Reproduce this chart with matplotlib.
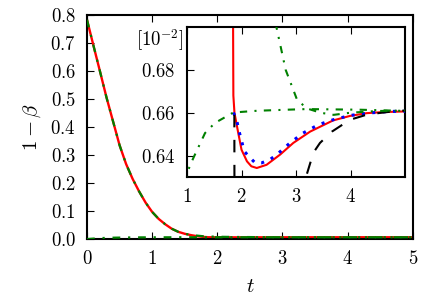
import numpy as np
import matplotlib
matplotlib.use("Agg")
import matplotlib.pyplot as plt
from matplotlib.ticker import FixedLocator, FuncFormatter

plt.rcParams['mathtext.fontset'] = 'cm'
plt.rcParams['font.family'] = 'serif'
plt.rcParams['font.serif'] = ['DejaVu Serif']

# ---- data (real units of 1 - beta) ----
# red solid: full solution
t_red = [0.0, 0.1, 0.2, 0.3, 0.4, 0.5, 0.6, 0.7, 0.8, 0.9, 1.0, 1.1, 1.2, 1.3,
         1.4, 1.5, 1.6, 1.7, 1.8, 1.845, 1.85, 1.87, 1.94, 2.0, 2.1, 2.18,
         2.28, 2.46, 2.71, 2.95, 3.26, 3.68, 3.99, 4.3, 4.6, 5.0]
y_red = [0.783, 0.69, 0.598, 0.505, 0.42, 0.335, 0.268, 0.215, 0.17, 0.13,
         0.097, 0.072, 0.053, 0.037, 0.026, 0.019, 0.014, 0.010, 0.0076,
         0.0070, 0.00668, 0.00660, 0.006505, 0.006427, 0.006373, 0.006350,
         0.006342, 0.006357, 0.006405, 0.006459, 0.006512, 0.006564,
         0.006585, 0.006598, 0.006603, 0.006606]

# green dash-dot: decaying approximation
t_gd = [0.0, 0.1, 0.2, 0.3, 0.4, 0.5, 0.6, 0.7, 0.8, 0.9, 1.0, 1.1, 1.2, 1.3,
        1.4, 1.5, 1.6, 1.8, 2.0, 2.3, 2.64, 2.81, 3.02, 3.2, 3.45, 3.69,
        4.0, 4.5, 5.0]
y_gd = [0.783, 0.69, 0.598, 0.505, 0.42, 0.335, 0.268, 0.215, 0.17, 0.13,
        0.097, 0.072, 0.053, 0.037, 0.026, 0.019, 0.0145, 0.0098, 0.0083,
        0.0075, 0.0070, 0.0068, 0.00666, 0.00662, 0.00660, 0.00659,
        0.006600, 0.006608, 0.006610]

# green dash-dot: rising approximation
t_gr = [0.0, 0.2, 0.4, 0.6, 0.8, 1.0, 1.116, 1.33, 1.51, 1.85, 2.28, 2.83,
        3.2, 4.17, 4.9, 5.0]
y_gr = [0.0, 0.0035, 0.0050, 0.0057, 0.0061, 0.00632, 0.006389, 0.006505,
        0.006552, 0.006601, 0.006609, 0.006614, 0.006617, 0.006614,
        0.006609, 0.006609]

# blue dotted
t_bl = [1.85, 1.91, 1.94, 1.97, 2.05, 2.16, 2.25, 2.37, 2.52, 2.65, 2.89,
        3.13, 3.41, 3.68, 3.99, 4.3, 4.72, 5.0]
y_bl = [0.006601, 0.006567, 0.006529, 0.006498, 0.00642, 0.006389,
        0.006366, 0.006366, 0.006381, 0.006405, 0.006459, 0.006505,
        0.006544, 0.006567, 0.006587, 0.006598, 0.006606, 0.006607]

# black dashed (two branches)
t_bk = [1.868, 1.87, np.nan, 3.14, 3.19, 3.32, 3.44, 3.66, 3.99, 4.3, 4.6,
        4.9, 5.0]
y_bk = [0.00659, 0.00620, np.nan, 0.00620, 0.006306, 0.006414, 0.006459,
        0.006512, 0.006567, 0.006591, 0.006601, 0.006609, 0.006610]

scale = 1e-2

fig = plt.figure(figsize=(4.35, 3.0), dpi=100)
ax = fig.add_axes([0.2, 0.203, 0.749, 0.747])

green = '#008000'
dd = (3.5, 3.5, 1.0, 3.5)

ax.plot(t_red, y_red, color='red', lw=1.7, zorder=2)
ax.plot(t_gd, y_gd, color=green, lw=1.6, dashes=dd, zorder=3)
ax.plot(t_gr, y_gr, color=green, lw=1.6, dashes=dd, zorder=3)

ax.set_xlim(0, 5)
ax.set_ylim(0, 0.8)
ax.xaxis.set_major_locator(FixedLocator([0, 1, 2, 3, 4, 5]))
ax.yaxis.set_major_locator(FixedLocator(np.arange(0, 0.81, 0.1)))
ax.xaxis.set_major_formatter(FuncFormatter(lambda v, p: r'$%d$' % round(v)))
ax.yaxis.set_major_formatter(FuncFormatter(lambda v, p: r'$%.1f$' % v))
ax.tick_params(direction='in', top=True, right=False, length=5, width=0.8,
               labelsize=13.5, pad=8)
for s in ax.spines.values():
    s.set_linewidth(1.5)
ax.set_xlabel(r'$t$', fontsize=15, labelpad=6)
ax.set_ylabel(r'$1-\beta$', fontsize=15, labelpad=5)

# inset
ai = fig.add_axes([0.43, 0.41, 0.501, 0.5])
ai.plot(t_red, np.array(y_red) / scale, color='red', lw=1.5, zorder=2)
ai.plot(t_bl, np.array(y_bl) / scale, color='blue', lw=2.2,
        dashes=(1.0, 2.4), zorder=3)
ai.plot(t_bk, np.array(y_bk) / scale, color='black', lw=1.5,
        dashes=(6, 6), zorder=4)
ai.plot(t_gd, np.array(y_gd) / scale, color=green, lw=1.5, dashes=dd,
        zorder=5)
ai.plot(t_gr, np.array(y_gr) / scale, color=green, lw=1.5, dashes=dd,
        zorder=5)
ai.set_xlim(1, 5)
ai.set_ylim(0.63, 0.70)
ai.xaxis.set_major_locator(FixedLocator([1, 2, 3, 4]))
ai.yaxis.set_major_locator(FixedLocator([0.64, 0.66, 0.68]))
ai.xaxis.set_major_formatter(FuncFormatter(lambda v, p: r'$%d$' % round(v)))
ai.yaxis.set_major_formatter(FuncFormatter(lambda v, p: r'$%.2f$' % v))
ai.tick_params(direction='in', top=True, right=False, length=5, width=0.8,
               labelsize=13.5, pad=8)
for s in ai.spines.values():
    s.set_linewidth(1.5)
ai.text(-0.015, 1.0, r'$[10^{-2}]$', transform=ai.transAxes,
        ha='right', va='top', fontsize=13.5)

fig.savefig('out.png', dpi=100)
